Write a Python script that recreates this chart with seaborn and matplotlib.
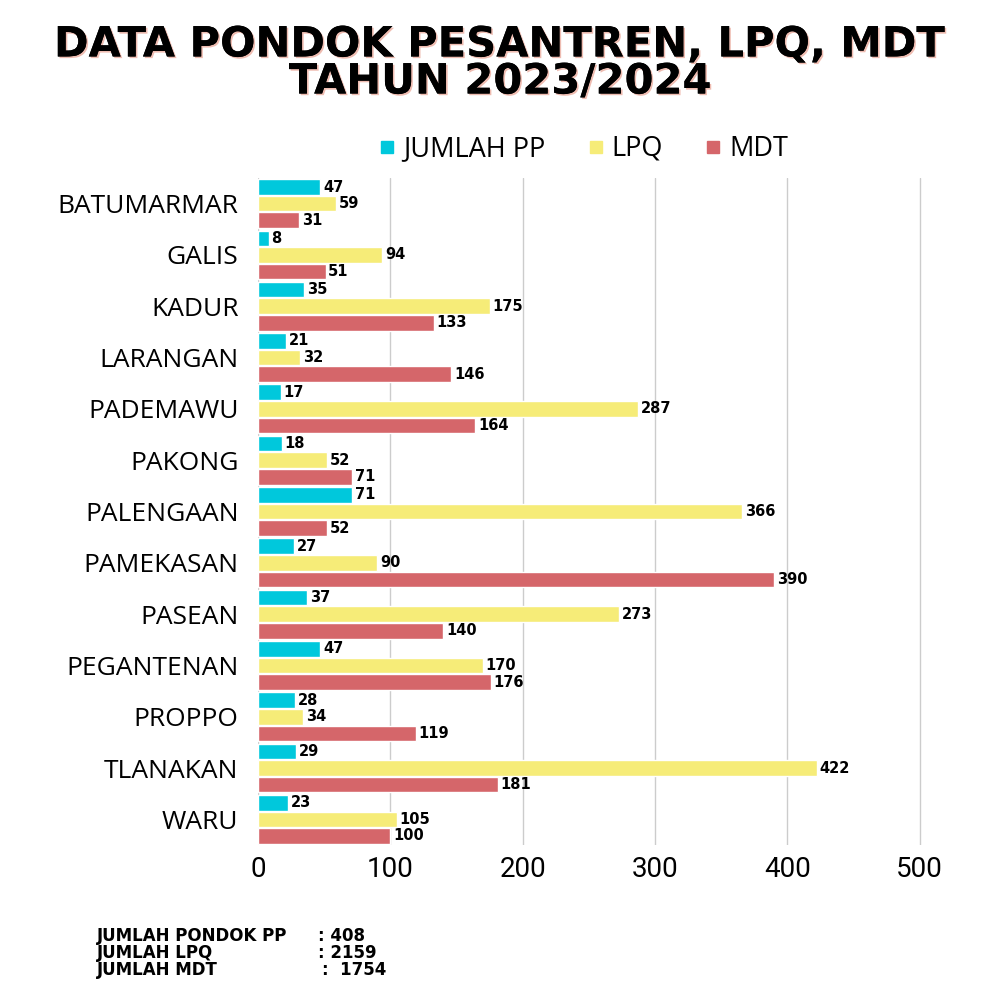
import matplotlib
matplotlib.use("Agg")
import matplotlib.pyplot as plt
import matplotlib.patheffects as pe
from matplotlib.lines import Line2D
import seaborn as sns
import pandas as pd

kecamatan = ["BATUMARMAR", "GALIS", "KADUR", "LARANGAN", "PADEMAWU", "PAKONG",
             "PALENGAAN", "PAMEKASAN", "PASEAN", "PEGANTENAN", "PROPPO",
             "TLANAKAN", "WARU"]
jumlah_pp = [47, 8, 35, 21, 17, 18, 71, 27, 37, 47, 28, 29, 23]
lpq = [59, 94, 175, 32, 287, 52, 366, 90, 273, 170, 34, 422, 105]
mdt = [31, 51, 133, 146, 164, 71, 52, 390, 140, 176, 119, 181, 100]
series = ["JUMLAH PP", "LPQ", "MDT"]
colors = ["#00C8DC", "#F6EC78", "#D5666A"]
x_ticks = [0, 100, 200, 300, 400, 500]
title_text = "DATA PONDOK PESANTREN, LPQ, MDT\nTAHUN 2023/2024"
summary_labels = ["JUMLAH PONDOK PP", "JUMLAH LPQ", "JUMLAH MDT"]
summary_values = [": 408", ": 2159", ":  1754"]

rows = []
for s, vals in zip(series, [jumlah_pp, lpq, mdt]):
    for k, v in zip(kecamatan, vals):
        rows.append({"kecamatan": k, "seri": s, "nilai": v})
df = pd.DataFrame(rows)

sns.set_theme(style="white")
plt.rcParams["font.family"] = ["Open Sans", "DejaVu Sans"]

fig = plt.figure(figsize=(10, 10), dpi=100)
ax = fig.add_axes([0.258, 0.155, 0.675, 0.667])

sns.barplot(data=df, y="kecamatan", x="nilai", hue="seri", hue_order=series,
            order=kecamatan, palette=colors, orient="h", width=0.97, gap=0.06,
            saturation=1, ax=ax, legend=False)

for cont in ax.containers:
    ax.bar_label(cont, padding=2, fontsize=10.5, fontweight="bold", color="black",
                 family=["DejaVu Sans"])

ax.set_xlim(0, 510)
ax.set_ylim(12.5, -0.5)
ax.set_xticks(x_ticks)
ax.set_xticklabels([str(t) for t in x_ticks], fontsize=20, color="black",
                   family=["Roboto", "DejaVu Sans"])
ax.tick_params(axis="y", labelsize=19, pad=14, length=0, labelcolor="black")
ax.tick_params(axis="x", pad=8, length=0, labelcolor="black")
ax.set_xlabel("")
ax.set_ylabel("")
ax.grid(axis="x", color="#cccccc", linewidth=1)
ax.set_axisbelow(True)
for sp in ax.spines.values():
    sp.set_visible(False)

handles = [Line2D([0], [0], marker="s", linestyle="", markersize=8,
                  markerfacecolor=c, markeredgecolor=c) for c in colors]
leg = fig.legend(handles, series, loc="center", bbox_to_anchor=(0.583, 0.851), ncol=3,
                 frameon=False, fontsize=19.5, handletextpad=0.25, columnspacing=1.5,
                 handlelength=0.7)
for t in leg.get_texts():
    t.set_color("black")

fig.text(0.5, 0.937, title_text, ha="center", va="center", fontsize=30,
         fontweight="heavy", family=["DejaVu Sans"], linespacing=0.85,
         color="black",
         path_effects=[pe.withSimplePatchShadow(offset=(1.2, -1.2), shadow_rgbFace="#e8a090", alpha=0.7),
                       pe.Normal()])

ys = [0.064, 0.047, 0.030]
val_x = [0.318, 0.318, 0.322]
for lab, val, y, vx in zip(summary_labels, summary_values, ys, val_x):
    fig.text(0.097, y, lab, ha="left", va="center", fontsize=12,
             fontweight="heavy", family=["DejaVu Sans"], color="black")
    fig.text(vx, y, val, ha="left", va="center", fontsize=12,
             fontweight="heavy", family=["DejaVu Sans"], color="black")

fig.savefig("out.png", dpi=100, facecolor="white")
